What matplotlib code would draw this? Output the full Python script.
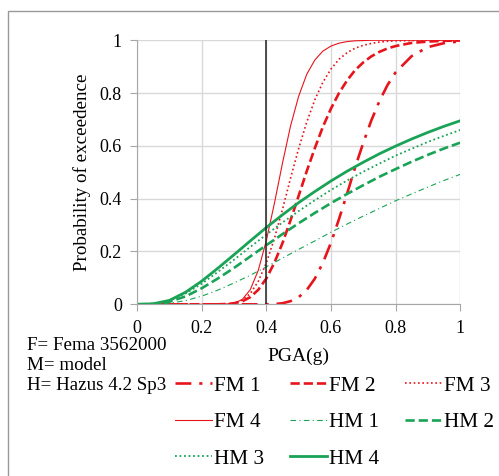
import numpy as np
import matplotlib
matplotlib.use("Agg")
import matplotlib.pyplot as plt
from matplotlib.patches import Rectangle

plt.rcParams['font.family'] = ['Liberation Serif', 'DejaVu Serif']

# PGA points (g)
pga_fm = [0, 0.25, 0.275, 0.3, 0.325, 0.35, 0.375, 0.4, 0.425, 0.45, 0.475, 0.5,
          0.525, 0.55, 0.575, 0.6, 0.625, 0.65, 0.675, 0.7, 0.725, 0.75, 0.775,
          0.8, 0.85, 0.9, 0.95, 1.0]
pga_hm = [0, 0.05, 0.1, 0.15, 0.2, 0.25, 0.3, 0.35, 0.4, 0.45, 0.5, 0.55, 0.6,
          0.65, 0.7, 0.75, 0.8, 0.85, 0.9, 0.95, 1.0]

fm1 = [0, 0, 0, 0, 0, 0, 0, 0, 0.001, 0.004, 0.012, 0.027, 0.054, 0.097, 0.157,
       0.233, 0.323, 0.419, 0.519, 0.611, 0.696, 0.769, 0.830, 0.878, 0.940,
       0.974, 0.989, 0.996]
fm2 = [0, 0, 0.001, 0.004, 0.011, 0.027, 0.055, 0.098, 0.158, 0.232, 0.319,
       0.411, 0.504, 0.591, 0.672, 0.741, 0.800, 0.848, 0.887, 0.916, 0.939,
       0.956, 0.969, 0.978, 0.990, 0.995, 0.998, 0.999]
fm3 = [0, 0, 0.001, 0.005, 0.016, 0.040, 0.087, 0.157, 0.250, 0.360, 0.478,
       0.590, 0.690, 0.774, 0.841, 0.891, 0.928, 0.953, 0.970, 0.981, 0.988,
       0.993, 0.996, 0.998, 0.999, 1, 1, 1]
fm4 = [0, 0, 0.001, 0.004, 0.018, 0.055, 0.129, 0.242, 0.383, 0.535, 0.676,
       0.788, 0.871, 0.925, 0.959, 0.978, 0.989, 0.995, 0.998, 0.999, 1, 1, 1,
       1, 1, 1, 1, 1]

hm1 = [0, 0.0003, 0.004, 0.014, 0.031, 0.054, 0.081, 0.110, 0.142, 0.175, 0.208,
       0.240, 0.273, 0.304, 0.334, 0.363, 0.392, 0.418, 0.444, 0.469, 0.492]
hm2 = [0, 0.001, 0.010, 0.030, 0.061, 0.098, 0.138, 0.181, 0.224, 0.266, 0.307,
       0.346, 0.383, 0.418, 0.451, 0.483, 0.512, 0.540, 0.566, 0.590, 0.612]
hm3 = [0, 0.001, 0.014, 0.041, 0.078, 0.123, 0.169, 0.217, 0.264, 0.310, 0.353,
       0.394, 0.433, 0.469, 0.502, 0.533, 0.563, 0.589, 0.615, 0.638, 0.660]
hm4 = [0, 0.002, 0.015, 0.046, 0.088, 0.137, 0.188, 0.240, 0.291, 0.339, 0.385,
       0.427, 0.467, 0.504, 0.538, 0.570, 0.599, 0.626, 0.651, 0.674, 0.695]

pga_ref = 0.4
ticks = [0, 0.2, 0.4, 0.6, 0.8, 1]
tick_labels = ["0", "0.2", "0.4", "0.6", "0.8", "1"]
notes = ["F= Fema 3562000", "M= model", "H= Hazus 4.2 Sp3"]

red = '#e8141c'
green = '#1aa356'

fig = plt.figure(figsize=(4.99, 4.76), dpi=100)
ax = fig.add_axes([0.275, 0.3607, 0.647, 0.5547])

l_fm1, = ax.plot(pga_fm, fm1, color=red, lw=1.9, dashes=(6, 3, 1.2, 3), label='FM 1')
l_fm2, = ax.plot(pga_fm, fm2, color=red, lw=1.9, dashes=(3.5, 1.5), label='FM 2')
l_fm3, = ax.plot(pga_fm, fm3, color=red, lw=1.2, dashes=(1, 1.6), label='FM 3')
l_fm4, = ax.plot(pga_fm, fm4, color=red, lw=0.8, label='FM 4')
l_hm1, = ax.plot(pga_hm, hm1, color=green, lw=0.8, dashes=(5, 3, 1, 3), label='HM 1')
l_hm2, = ax.plot(pga_hm, hm2, color=green, lw=1.9, dashes=(3.5, 1.5), label='HM 2')
l_hm3, = ax.plot(pga_hm, hm3, color=green, lw=1.3, dashes=(1, 1.5), label='HM 3')
l_hm4, = ax.plot(pga_hm, hm4, color=green, lw=2.0, label='HM 4')
ax.axvline(pga_ref, color='#222222', lw=1.1, zorder=5)

ax.set_xlim(0, 1)
ax.set_ylim(0, 1)
ax.set_xticks(ticks)
ax.set_xticklabels(tick_labels)
ax.set_yticks(ticks)
ax.set_yticklabels(tick_labels)
ax.grid(True, color='#d9d9d9', lw=1)
ax.set_axisbelow(True)
for s in ['top', 'right']:
    ax.spines[s].set_visible(False)
for s in ['left', 'bottom']:
    ax.spines[s].set_color('#a6a6a6')
ax.tick_params(axis='both', length=5, color='#a6a6a6', labelsize=13, pad=6)
ax.set_ylabel('Probability of exceedence', fontsize=13.7, labelpad=6)
ax.set_xlabel('PGA(g)', fontsize=14, labelpad=8)

for i, t in enumerate(notes):
    fig.text(27 / 499, 1 - (345 + i * 20) / 476, t, fontsize=13.7,
             va='center', ha='left')

# legend is filled column by column, so reorder to read row by row
order = [l_fm1, l_fm4, l_hm3, l_fm2, l_hm1, l_hm4, l_fm3, l_hm2]
ax.legend(handles=order, loc='upper left', bbox_to_anchor=(175 / 499, 1 - 376 / 476),
          bbox_transform=fig.transFigure, ncol=3, frameon=False, fontsize=15.3,
          handlelength=1.75, handletextpad=0.1, columnspacing=1.2,
          labelspacing=0.78, borderpad=0, borderaxespad=0)

fig.add_artist(Rectangle((8 / 499, -0.1), 1.2, 1.1 - 11 / 476,
                         transform=fig.transFigure, fill=False,
                         edgecolor='#999999', lw=1))

fig.savefig('out.png', dpi=100)
